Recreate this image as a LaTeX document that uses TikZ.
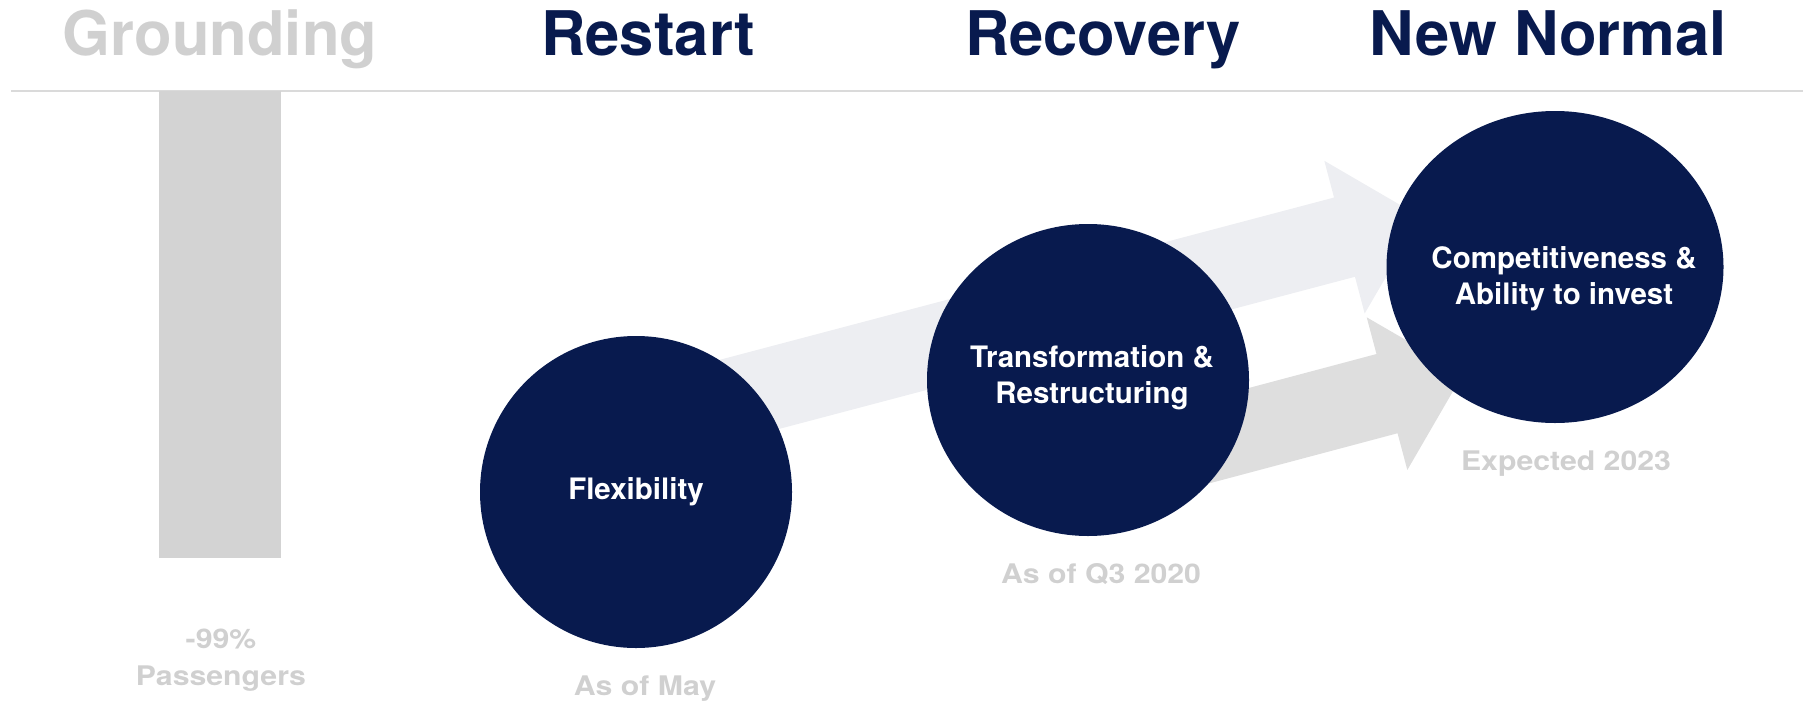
\documentclass[tikz,border=0pt]{standalone}
\usepackage{fontspec}
\setmainfont{TeX Gyre Heros}
\newfontfamily\widefont[FakeStretch=1.12]{TeX Gyre Heros}
\usepackage{tikz}
\usetikzlibrary{shapes.geometric}

\definecolor{navy}{HTML}{081A4E}
\definecolor{notegrey}{HTML}{D0D0D0}
\definecolor{bargrey}{HTML}{D3D3D3}
\definecolor{rulegrey}{HTML}{DADADA}
\definecolor{lightband}{HTML}{EDEEF2}
\definecolor{darkband}{HTML}{DEDEDE}

\begin{document}
\begin{tikzpicture}[
  x=1pt, y=-1pt,
  every node/.style={inner sep=0pt},
  phase/.style={anchor=base, text=navy,
                font=\fontsize{61.5}{70}\selectfont\bfseries},
  milestone/.style={ellipse, fill=navy, minimum height=312pt},
  mtext/.style={text=white, align=center,
                font=\fontsize{29.5}{36}\selectfont\bfseries},
  note/.style={text=notegrey, align=center,
               font=\widefont\fontsize{27}{37}\selectfont\bfseries},
]
\useasboundingbox (0,0) rectangle (1803,704);

% headline row
\node[phase, text=notegrey] (ground) at (220,55)  {Grounding};
\node[phase]                (restart) at (648,55) {Restart};
\node[phase]                (recov) at (1103,55)  {Recovery};
\node[phase]                (newnorm) at (1548,55) {New Normal};
\draw[rulegrey, line width=2pt] (11,91) -- (1803,91);

% grounding bar
\fill[bargrey] (159,91) rectangle (281,558);
\node[note] (drop) at (221,660) {-99\%\\Passengers};

% block arrows behind the circles
\begin{scope}[shift={(660,418)}, rotate=14.8]
  \fill[lightband] (0,-41) -- (708,-41) -- (708,-79) -- (787,0)
                   -- (708,79) -- (708,41) -- (0,41) -- cycle;
\end{scope}
\begin{scope}[shift={(1100,470)}, rotate=14.9]
  \fill[darkband] (0,-41) -- (297,-41) -- (297,-79) -- (376,0)
                  -- (297,79) -- (297,41) -- (0,41) -- cycle;
\end{scope}

% milestones
\node[milestone, minimum width=312pt] (flex)  at (636,492)  {};
\node[milestone, minimum width=322pt] (trans) at (1088,380) {};
\node[milestone, minimum width=337pt] (comp)  at (1555,267) {};
\node[mtext] (flextxt)  at (flex)       {Flexibility};
\node[mtext] (transtxt) at (1092,378)   {Transformation \&\\Restructuring};
\node[mtext] (comptxt)  at (1564,279)   {Competitiveness \&\\Ability to invest};

\node[note, anchor=base] (may)  at (645,695)  {As of May};
\node[note, anchor=base] (q3)   at (1101,583) {As of Q3 2020};
\node[note, anchor=base] (exp)  at (1566,470) {Expected 2023};
\end{tikzpicture}
\end{document}
